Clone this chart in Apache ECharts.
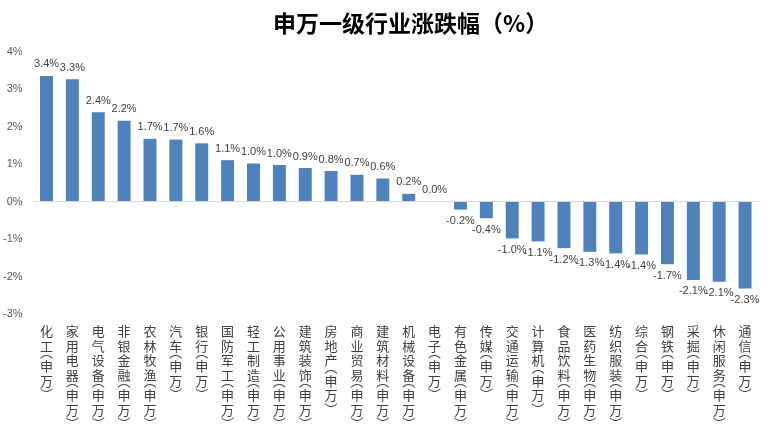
<!DOCTYPE html>
<html><head><meta charset="utf-8">
<script src="https://cdn.jsdelivr.net/npm/echarts@6/dist/echarts.min.js"></script>
<style>html,body{margin:0;padding:0;background:#fff}#c{width:773px;height:430px}</style>
</head><body><div id="c"></div>
<script>
const categories = ['化工','家用电器','电气设备','非银金融','农林牧渔','汽车','银行','国防军工','轻工制造','公用事业','建筑装饰','房地产','商业贸易','建筑材料','机械设备','电子','有色金属','传媒','交通运输','计算机','食品饮料','医药生物','纺织服装','综合','钢铁','采掘','休闲服务','通信'];
const values = [3.36,3.27,2.39,2.16,1.68,1.66,1.56,1.11,1.02,0.98,0.90,0.82,0.72,0.62,0.21,0.01,-0.21,-0.44,-0.98,-1.06,-1.24,-1.34,-1.38,-1.41,-1.67,-2.09,-2.14,-2.32];
const suffix = '申万';
const yTicks = {min:-3, max:4, step:1};

const chart = echarts.init(document.getElementById('c'));
chart.setOption({
  animation:false,
  title:{text:'申万一级行业涨跌幅（%）', left:268, top:7,
    textStyle:{fontFamily:'Noto Sans CJK SC', fontWeight:'bold', fontSize:23, color:'#000'}},
  grid:{left:32, right:15, top:52, bottom:115},
  xAxis:{type:'category', data:categories,
    axisLine:{show:false}, axisTick:{show:false},
    axisLabel:{interval:0, margin:10, verticalAlign:'top',
      fontFamily:'Noto Sans CJK SC', fontSize:13, lineHeight:14.5, color:'#404040',
      formatter:v => v.split('').map(c=>'{c|'+c+'}').join('\n') + '\n{p|︵}\n' + suffix.split('').map(c=>'{c|'+c+'}').join('\n') + '\n{q|︶}',
      rich:{
        c:{fontFamily:'Noto Sans CJK SC', fontSize:13, lineHeight:14.5, color:'#404040'},
        p:{fontFamily:'Noto Sans CJK SC', fontSize:13, lineHeight:6, color:'#404040', verticalAlign:'bottom'},
        q:{fontFamily:'Noto Sans CJK SC', fontSize:13, lineHeight:6, color:'#404040', verticalAlign:'top'}
      }}},
  yAxis:{type:'value', min:yTicks.min, max:yTicks.max, interval:yTicks.step,
    splitLine:{show:false}, axisLine:{show:false}, axisTick:{show:false},
    axisLabel:{formatter:'{value}%', fontFamily:'Liberation Sans', fontSize:11, color:'#595959', margin:11}},
  series:[{type:'bar', data:values.map(v=>({value:v, label:{position: v<0?'bottom':'top'}})),
    barWidth:'50%', itemStyle:{color:'#4F81BD'},
    label:{show:true, distance:6, fontFamily:'Liberation Sans', fontSize:11, color:'#404040',
      formatter:p=>p.value.toFixed(1)+'%'},
    markLine:{silent:true, symbol:'none', label:{show:false},
      lineStyle:{color:'#d9d9d9', width:1, type:'solid'}, data:[{yAxis:0}]}
  }]
});
</script></body></html>
